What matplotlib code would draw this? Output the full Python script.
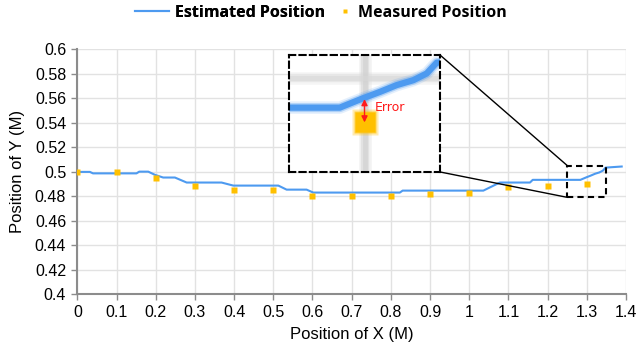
import numpy as np
import matplotlib
matplotlib.use("Agg")
import matplotlib.pyplot as plt
from matplotlib.patches import Rectangle, ConnectionPatch
from matplotlib.lines import Line2D

# estimated track
est_x = [0, 0.032, 0.04, 0.151, 0.158, 0.181, 0.198, 0.219, 0.249, 0.279, 0.368,
         0.398, 0.513, 0.534, 0.585, 0.602, 0.823, 0.83, 1.036, 1.078, 1.155,
         1.162, 1.2836, 1.2991, 1.3102, 1.3212, 1.3323, 1.3412, 1.3478, 1.389]
est_y = [0.4998, 0.4998, 0.4986, 0.4986, 0.5, 0.5, 0.4974, 0.4952, 0.4952, 0.4911, 0.4911,
         0.4886, 0.4886, 0.4853, 0.4853, 0.4829, 0.4829, 0.4845, 0.4845, 0.4911, 0.4911,
         0.4933, 0.4933, 0.4954, 0.4968, 0.4983, 0.4994, 0.5009, 0.5033, 0.5042]

# measured points
meas_x = [0, 0.1, 0.2, 0.3, 0.4, 0.5, 0.6, 0.7, 0.8, 0.9, 1.0, 1.1, 1.2, 1.3]
meas_y = [0.5, 0.5, 0.495, 0.488, 0.485, 0.485, 0.48, 0.48, 0.48, 0.4815, 0.4823,
          0.4872, 0.4886, 0.4902]

x_ticks = [0, 0.1, 0.2, 0.3, 0.4, 0.5, 0.6, 0.7, 0.8, 0.9, 1, 1.1, 1.2, 1.3, 1.4]
x_labels = ["0", "0.1", "0.2", "0.3", "0.4", "0.5", "0.6", "0.7", "0.8", "0.9", "1",
            "1.1", "1.2", "1.3", "1.4"]
y_ticks = [0.4, 0.42, 0.44, 0.46, 0.48, 0.5, 0.52, 0.54, 0.56, 0.58, 0.6]
y_labels = ["0.4", "0.42", "0.44", "0.46", "0.48", "0.5", "0.52", "0.54", "0.56", "0.58", "0.6"]

# zoomed region
zoom_x = (1.25, 1.35)
zoom_y = (0.479, 0.505)
err_x = 1.3

blue = "#4D9AF0"
gold = "#FFC000"

plt.rcParams['font.family'] = ['Liberation Sans', 'DejaVu Sans']

fig = plt.figure(figsize=(6.38, 3.46), dpi=100)
ax = fig.add_axes([0.1212, 0.1503, 0.860, 0.7072])

ax.plot(est_x, est_y, color=blue, lw=1.5, zorder=3)
ax.plot(meas_x, meas_y, ls="none", marker="s", ms=4.3, color=gold, mec="none", zorder=4)

ax.set_xlim(0, 1.4)
ax.set_ylim(0.4, 0.6)
ax.set_xticks(x_ticks)
ax.set_xticklabels(x_labels)
ax.set_yticks(y_ticks)
ax.set_yticklabels(y_labels)
ax.tick_params(labelsize=11.5, length=4, width=1, color="#8c8c8c", pad=4)
ax.grid(True, color="#e2e2e2", lw=1)
ax.set_axisbelow(True)
for s in ["top", "right"]:
    ax.spines[s].set_visible(False)
for s in ["left", "bottom"]:
    ax.spines[s].set_color("#8c8c8c")
    ax.spines[s].set_linewidth(1.5)
ax.set_xlabel("Position of X (M)", fontsize=12, labelpad=5)
ax.set_ylabel("Position of Y (M)", fontsize=12, labelpad=7)

# dashed box around zoomed region
ax.add_patch(Rectangle((zoom_x[0], zoom_y[0]), zoom_x[1] - zoom_x[0], zoom_y[1] - zoom_y[0],
                       fill=False, ec="black", lw=1.5, ls=(0, (3, 2)), zorder=5))

# inset (blurry zoom of the box)
axins = fig.add_axes([0.453, 0.503, 0.2367, 0.338])
axins.set_facecolor("white")
axins.set_xlim(*zoom_x)
axins.set_ylim(*zoom_y)
axins.set_xticks([])
axins.set_yticks([])
for w, a in [(9, 0.25), (6, 0.45), (3.5, 0.6)]:
    axins.axvline(err_x, color="#cfcfcf", lw=w, alpha=a, zorder=1)
    axins.axhline(0.5, color="#d8d8d8", lw=w, alpha=a, zorder=1)
for w, a in [(9, 0.15), (6.5, 0.35), (4.5, 1.0)]:
    axins.plot(est_x, est_y, color=blue, lw=w, alpha=a, solid_capstyle="round", zorder=2)
for ms, a in [(19, 0.3), (16.5, 0.6), (14, 1.0)]:
    axins.plot(meas_x, meas_y, ls="none", marker="s", ms=ms, color=gold, mec="none",
               alpha=a, zorder=3)
est_at = np.interp(err_x, est_x, est_y)
meas_at = meas_y[meas_x.index(err_x)]
axins.annotate("", xy=(err_x, meas_at - 0.0008), xytext=(err_x, est_at + 0.0003),
               arrowprops=dict(arrowstyle="<|-|>", color="#FF1A1A", lw=1, mutation_scale=9),
               zorder=4)
axins.text(err_x + 0.007, (est_at + meas_at) / 2 + 0.0005, "Error", color="#FF1A1A",
           fontsize=9, family="DejaVu Sans", va="center", ha="left", zorder=4)
for s in axins.spines.values():
    s.set_linestyle((0, (3, 2)))
    s.set_linewidth(1.5)
    s.set_color("black")

# connector lines
for ya, yb in [(1, zoom_y[1]), (0, zoom_y[0])]:
    con = ConnectionPatch(xyA=(1, ya), coordsA=axins.transAxes,
                          xyB=(zoom_x[0], yb), coordsB=ax.transData,
                          color="black", lw=1)
    fig.add_artist(con)

# legend: two pieces so the marker entry can have a short handle
leg_font = dict(family="Open Sans", weight="bold", size=11.5)
leg1 = fig.legend([Line2D([], [], color=blue, lw=1.5)], ["Estimated Position"],
                  loc="upper left", bbox_to_anchor=(0.2116, 0.986), frameon=False,
                  handlelength=2.1, handletextpad=0.4, borderpad=0, borderaxespad=0,
                  prop=leg_font)
fig.add_artist(leg1)
fig.legend([Line2D([], [], ls="none", marker="s", ms=3.5, color=gold, mec="none")],
           ["Measured Position"], loc="upper left", bbox_to_anchor=(0.533, 0.986),
           frameon=False, handlelength=0.6, handletextpad=0.5, borderpad=0,
           borderaxespad=0, prop=leg_font)

fig.savefig("out.png", dpi=100)
